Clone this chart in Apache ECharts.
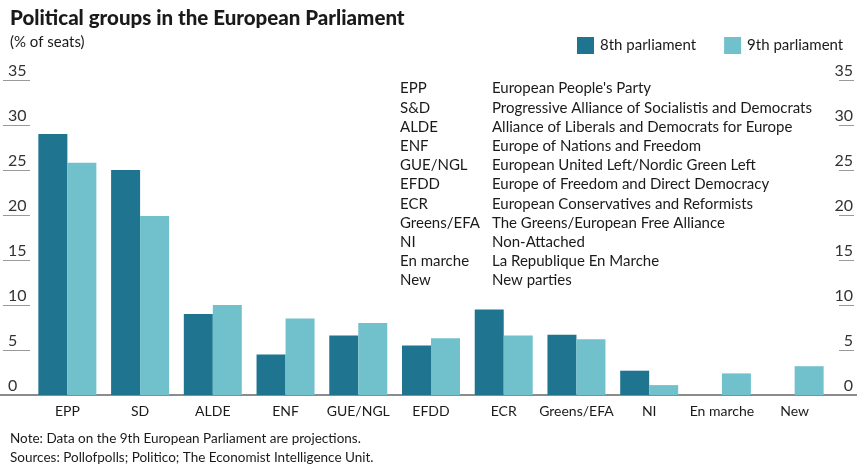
<!DOCTYPE html>
<html>
<head>
<meta charset="utf-8">
<script src="https://cdn.jsdelivr.net/npm/echarts@6/dist/echarts.min.js"></script>
<style>
  html, body { margin: 0; padding: 0; background: #fff; }
  #chart { width: 857px; height: 466px; }
</style>
</head>
<body>
<div id="chart"></div>
<script>
// Political groups: share of seats (%)
const groups = ['EPP', 'SD', 'ALDE', 'ENF', 'GUE/NGL', 'EFDD', 'ECR', 'Greens/EFA', 'NI', 'En marche', 'New'];
const eighthParliament = [29.0, 25.0, 9.0, 4.5, 6.6, 5.5, 9.5, 6.7, 2.7, null, null];
const ninthParliament = [25.8, 19.9, 10.0, 8.5, 8.0, 6.3, 6.6, 6.2, 1.1, 2.4, 3.2];

// Glossary of group abbreviations
const abbreviations = ['EPP', 'S&D', 'ALDE', 'ENF', 'GUE/NGL', 'EFDD', 'ECR', 'Greens/EFA', 'NI', 'En marche', 'New'];
const fullNames = [
  "European People's Party",
  'Progressive Alliance of Socialistis and Democrats',
  'Alliance of Liberals and Democrats for Europe',
  'Europe of Nations and Freedom',
  'European United Left/Nordic Green Left',
  'Europe of Freedom and Direct Democracy',
  'European Conservatives and Reformists',
  'The Greens/European Free Alliance',
  'Non-Attached',
  'La Republique En Marche',
  'New parties'
];

const yMin = 0, yMax = 35, yStep = 5;

const FONT = 'Lato, "Noto Sans", sans-serif';
const DARK = '#1f7490';
const LIGHT = '#71c1cd';
const TXT = '#1a1a1a';

const chart = echarts.init(document.getElementById('chart'));

const valueAxisCommon = { type: 'value', min: yMin, max: yMax, interval: yStep };

chart.setOption({
  animation: false,
  backgroundColor: '#ffffff',
  textStyle: { fontFamily: FONT },
  title: [
    {
      text: 'Political groups in the European Parliament',
      left: 5, top: 3,
      textStyle: { fontFamily: FONT, fontWeight: 900, fontSize: 20.5, color: TXT }
    },
    {
      text: '(% of seats)',
      left: 5, top: 30,
      textStyle: { fontFamily: FONT, fontWeight: 'normal', fontSize: 15, color: TXT }
    },
    {
      text: 'Note: Data on the 9th European Parliament are projections.',
      left: 5, top: 427,
      textStyle: { fontFamily: FONT, fontWeight: 'normal', fontSize: 13.5, color: TXT }
    },
    {
      text: 'Sources: Pollofpolls; Politico; The Economist Intelligence Unit.',
      left: 5, top: 446,
      textStyle: { fontFamily: FONT, fontWeight: 'normal', fontSize: 13.5, color: TXT }
    }
  ],
  legend: {
    left: 572, top: 32,
    itemWidth: 17, itemHeight: 17, itemGap: 28,
    icon: 'rect',
    textStyle: { fontFamily: FONT, fontSize: 15, color: TXT, padding: [0, 0, 0, 1] },
    data: ['8th parliament', '9th parliament']
  },
  grid: [
    // bars
    { left: 31, right: 26, top: 80, bottom: 71 },
    // left tick labels
    { left: 3, width: 27, top: 80, bottom: 71 },
    // right tick labels
    { left: 839, width: 15, top: 80, bottom: 71 },
    // full-width baseline
    { left: 0, right: 0, top: 80, bottom: 71 }
  ],
  xAxis: [
    {
      type: 'category', gridIndex: 0, data: groups,
      axisLine: { show: false }, axisTick: { show: false },
      axisLabel: { interval: 0, margin: 9, fontFamily: FONT, fontSize: 14, color: TXT }
    },
    { type: 'value', gridIndex: 1, show: false },
    { type: 'value', gridIndex: 2, show: false },
    {
      type: 'value', gridIndex: 3, min: 0, max: 1,
      axisLine: { show: true, lineStyle: { color: '#8c8c8c', width: 2 } },
      axisTick: { show: false }, axisLabel: { show: false }, splitLine: { show: false }
    }
  ],
  yAxis: [
    Object.assign({ gridIndex: 0, show: false }, valueAxisCommon),
    Object.assign({
      gridIndex: 1, position: 'left',
      axisLine: { show: false }, axisTick: { show: false },
      splitLine: { show: true, lineStyle: { color: '#9a9a9a', width: 1 } },
      axisLabel: { inside: true, margin: 5, verticalAlign: 'bottom', padding: [0, 0, 1, 0],
        fontFamily: FONT, fontSize: 16, color: '#333' }
    }, valueAxisCommon),
    Object.assign({
      gridIndex: 2, position: 'right',
      axisLine: { show: false }, axisTick: { show: false },
      splitLine: { show: true, lineStyle: { color: '#9a9a9a', width: 1 } },
      axisLabel: { inside: true, margin: 1, verticalAlign: 'bottom', padding: [0, 0, 1, 0],
        fontFamily: FONT, fontSize: 16, color: '#333' }
    }, valueAxisCommon),
    Object.assign({ gridIndex: 3, show: false }, valueAxisCommon)
  ],
  series: [
    {
      name: '8th parliament', type: 'bar', xAxisIndex: 0, yAxisIndex: 0,
      data: eighthParliament, barWidth: 29, barGap: '0%',
      itemStyle: { color: DARK }
    },
    {
      name: '9th parliament', type: 'bar', xAxisIndex: 0, yAxisIndex: 0,
      data: ninthParliament, barWidth: 29, barGap: '0%',
      itemStyle: { color: LIGHT }
    }
  ],
  graphic: [
    {
      type: 'text', left: 400, top: 79,
      style: {
        text: abbreviations.join('\n'),
        font: '15px ' + FONT, lineHeight: 19.2, fill: TXT
      }
    },
    {
      type: 'text', left: 492, top: 79,
      style: {
        text: fullNames.join('\n'),
        font: '15px ' + FONT, lineHeight: 19.2, fill: TXT
      }
    }
  ]
});
</script>
</body>
</html>
